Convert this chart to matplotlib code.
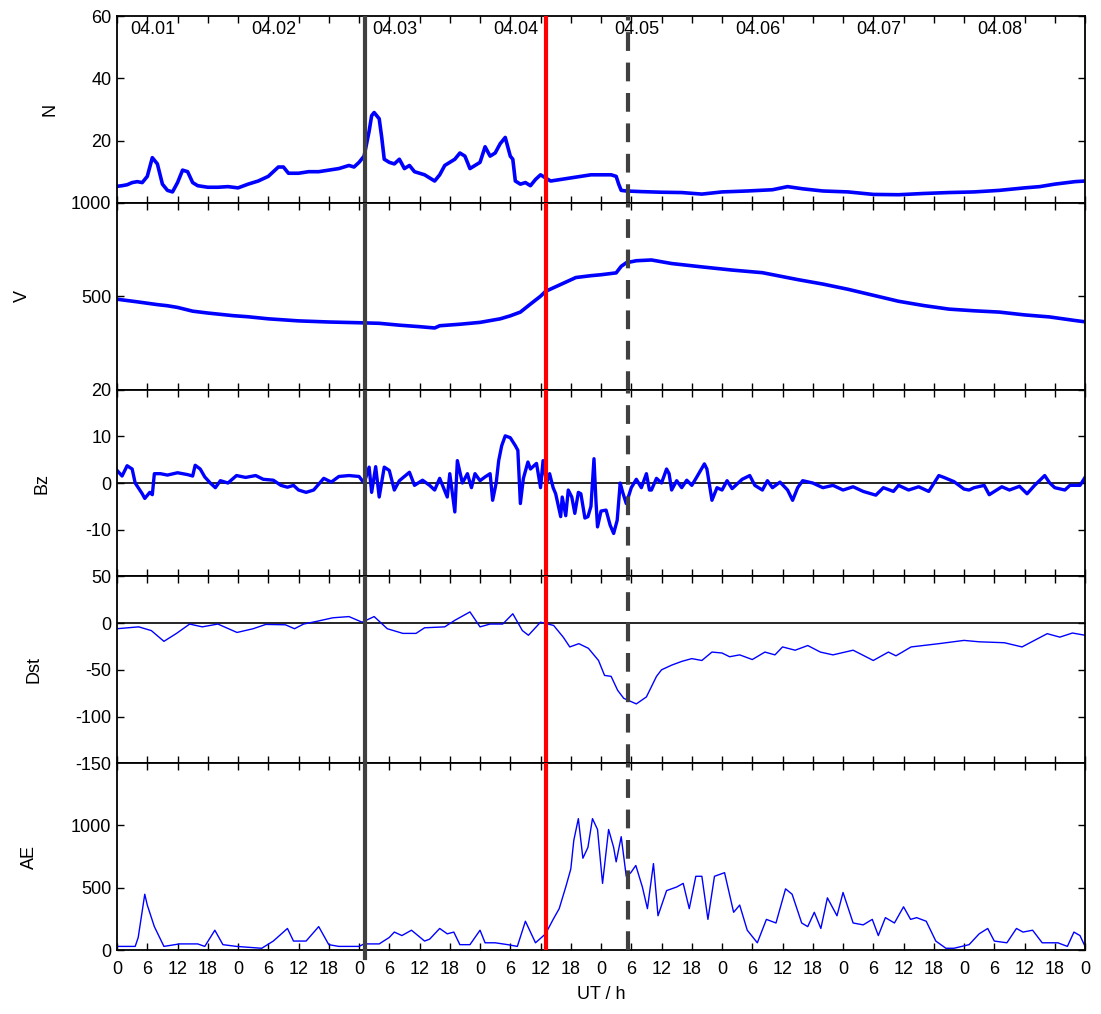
import numpy as np
import matplotlib.pyplot as plt

plt.rcParams['font.family'] = ['Liberation Sans', 'DejaVu Sans']
plt.rcParams['axes.unicode_minus'] = False

# Solar wind density N
n_h = [0, 1, 2, 3, 4, 5, 6, 7, 8, 9, 10, 11, 12, 13, 14, 15, 16, 18, 20, 22, 24, 26, 28,
       30, 31, 32, 33, 34, 36, 38, 40, 42, 44, 46, 47, 48, 49, 50, 50.5, 51, 52, 52.5, 53,
       54, 55, 56, 57, 58, 59, 60, 61, 62, 63, 64, 65, 66, 67, 68, 69, 70, 71, 72, 73, 74,
       75, 76, 77, 78, 78.5, 79, 80, 81, 82, 83, 84, 85, 86, 88, 90, 92, 94, 96, 98, 99,
       99.5, 100, 101, 104, 108, 112, 116, 120, 125, 130, 133, 136, 140, 145, 150, 155,
       160, 165, 170, 175, 180, 183, 186, 190, 192]
n_val = [5.3, 5.5, 5.8, 6.5, 6.8, 6.5, 8.5, 14.5, 12.5, 6, 4, 3.5, 6.5, 10.5, 10, 6.5,
         5.5, 5, 5, 5.2, 4.8, 6, 7, 8.5, 10, 11.5, 11.5, 9.5, 9.5, 10, 10, 10.5, 11, 12,
         11.5, 13, 15, 23, 28, 29, 27, 21, 14, 13, 12.5, 14, 11, 12, 10, 9.5, 9, 8, 7, 9,
         12, 13, 14, 16, 15, 11, 12, 13, 18, 15, 16, 19, 21, 15, 14, 7, 6, 6.5, 5.5, 7.5,
         9, 8, 7, 7.5, 8, 8.5, 9, 9, 9, 8.5, 6, 4, 3.8, 3.6, 3.4, 3.3, 2.8, 3.5, 3.8, 4.2,
         5.2, 4.5, 3.8, 3.5, 2.7, 2.6, 3, 3.3, 3.5, 4, 4.8, 5.2, 6, 6.8, 7]

# Solar wind speed V
v_h = [0, 4, 8, 10, 12, 15, 18, 23, 26, 30, 36, 42, 48, 52, 56, 60, 63, 64, 68, 72, 76,
       78, 80, 82, 84, 85, 88, 91, 94, 96, 99, 100, 101, 103, 106, 110, 116, 122, 128,
       135, 140, 145, 150, 155, 160, 165, 170, 175, 180, 185, 190, 192]
v_val = [484, 470, 455, 449, 440, 420, 410, 396, 390, 379, 368, 362, 358, 355, 345, 337,
         330, 342, 350, 360, 379, 395, 415, 458, 500, 526, 563, 600, 610, 615, 625, 660,
         679, 690, 694, 675, 657, 640, 626, 589, 565, 537, 505, 473, 450, 431, 422, 415,
         400, 389, 370, 363]

# IMF Bz
bz_h = [0, 1, 2, 3, 3.6, 5, 5.5, 6.5, 7, 7.4, 8.6, 10, 12, 14, 15, 15.5, 16.5, 17.4,
        18.5, 19.5, 20.5, 22, 23.7, 25.5, 27.5, 29, 31, 32.5, 33.8, 35, 36, 37.5, 39, 41,
        42.5, 44, 46, 48, 49, 50, 50.5, 51.3, 52, 53, 54, 55, 56, 58, 59, 60.6, 62, 63,
        64, 65.5, 66, 67, 67.5, 68.5, 69.5, 70.3, 71, 72, 73, 74, 74.5, 75.2, 75.7, 76.3,
        77, 78, 79, 79.5, 80, 80.6, 81.5, 82, 83.2, 84, 84.5, 85.2, 85.8, 86.5, 87, 88,
        88.3, 89, 89.5, 90.2, 90.8, 91.5, 92, 92.8, 93.4, 94, 94.6, 95, 95.3, 96, 97,
        97.8, 98.5, 99.2, 99.8, 100.3, 101, 102, 103, 104, 105, 105.6, 106, 107, 108, 109,
        109.5, 110, 111, 112, 113, 114, 115, 116.5, 117, 118, 119, 120, 121, 122, 124,
        125.5, 126.5, 128, 129, 130, 131.5, 133, 134, 135, 136, 138, 140, 142, 144, 146,
        148, 150.5, 152, 154, 155, 157, 159, 161, 163, 164, 166, 168, 169, 170, 172, 173,
        175.5, 177, 179, 180.5, 182, 184, 185, 186, 188, 189, 191, 192]
bz_val = [2.7, 1.5, 3.7, 3, 0, -2.3, -3.3, -2, -2.5, 2, 2, 1.7, 2.2, 1.8, 1.5, 3.8, 3,
          1.3, 0, -1, 0.5, 0, 1.6, 1.2, 1.6, 0.8, 0.6, -0.5, -0.9, -0.5, -1.5, -2, -1.5,
          1, 0.2, 1.4, 1.6, 1.4, 0, 3.4, -2, 3.5, -3, 3.4, 2.7, -1.5, 0.5, 2.3, -0.5, 0.6,
          -0.5, -1.5, 1, -3, 2, -6.2, 4.8, 0, 2, -1, 2, 0.5, 1.3, 2, -3.7, 0, 4.8, 8, 10.1,
          9.7, 8, 7, -4.4, 1, 4.5, 3, 4.2, -1, 4.8, 0, 2, -1, -2.3, -7.2, -3, -7, -1.5, -3,
          -6.5, -2, -2.3, -7.5, -7.2, -5, 5.2, -4, -9.4, -6, -5.8, -9, -10.8, -8, 0, -2,
          -4.4, -1, 0.8, -1, 2, -1.5, -1.5, 1, 0, 3, 2, -1.5, 0.5, -1, 0.6, -0.5, 1.3, 4.1,
          3, -3.7, -1, -1.5, 0.5, -1.2, 0.8, 1.6, -0.5, -1.5, 0.5, -1, 0.2, -1.5, -3.7, -1,
          0.5, 0, -1, -0.5, -1.5, -0.8, -1.8, -2.6, -1, -1.8, -0.5, -1.5, -0.8, -1.8, 1.6,
          1.2, 0.3, -1.3, -1.5, -1, -0.5, -2.5, -0.8, -1.5, -0.7, -2.3, -0.5, 1.6, 0, -1,
          -1.5, -0.5, -0.5, 1.2]

# Dst index
dst_h = [0, 4.3, 6.8, 9.3, 11.8, 14.4, 16.9, 20, 23.8, 27, 29.5, 33.4, 35.2, 37, 39.7,
         42.8, 46, 48.6, 51, 53.6, 56.7, 59.3, 61, 65, 67, 70, 72, 74, 76.5, 78.5, 80.4,
         81.6, 84, 86.6, 88.5, 89.8, 91.6, 93.5, 95.5, 96.7, 98, 99.3, 100.5, 103, 105, 107,
         108, 110, 112, 114, 116, 118, 120, 121.5, 123.5, 126, 128.5, 130.5, 132, 134.5,
         137, 139.5, 142, 146, 150, 153, 154.5, 157.5, 163, 168, 171, 176, 179.5, 184.5,
         187, 189.5, 192]
dst_val = [-6, -4, -8, -19.5, -11, -1, -4, -1, -10, -6, -1.4, -1.8, -6, -1, 2, 5.7, 7, 1,
           7, -6, -11, -11, -5, -4, 3, 12, -4, -1, -1, 10, -8, -13, 1, -2.5, -15, -25.5, -22,
           -27, -40, -56, -57, -72, -80.5, -86.5, -79, -57, -50, -45, -41, -38, -40, -31, -32,
           -36, -34, -39, -31, -34, -25.5, -29, -24, -31, -34, -29, -40, -31, -35, -25.5, -22,
           -18.5, -20, -21, -25.5, -11.3, -15, -10.6, -13]

# AE index
ae_h = [0, 3.6, 4.2, 5.5, 6, 7.4, 9.3, 12.4, 16, 17.4, 19.4, 21, 23.7, 28.7, 31, 33.8, 35,
        37.5, 40, 42, 44, 48, 49, 52, 54, 55, 56.5, 58.4, 61, 62, 64, 65.5, 66.8, 68, 70,
        72, 73, 75, 77.5, 79.4, 81, 83, 85, 86.5, 87.7, 89, 90, 90.6, 91.5, 92.4, 93.4,
        94.3, 95.3, 96.3, 97.5, 98.5, 99, 100, 101, 101.9, 102.9, 104.2, 105.2, 106.4,
        107.3, 109, 111, 112.3, 113.5, 114.8, 116, 117.2, 118.5, 120.5, 122.3, 123.5, 125,
        127, 128.8, 130.7, 132.6, 133.9, 135.8, 137, 138.3, 139.6, 140.9, 142.8, 144, 146,
        148, 149.8, 151, 152.4, 154.2, 156, 157.4, 158.6, 160.5, 162.4, 164.4, 166, 169,
        171, 172.7, 174, 176.5, 178.4, 179.7, 181.6, 183.5, 186.6, 188.5, 189.8, 191, 192]
ae_val = [29, 29, 101, 448, 361, 188, 29, 49, 49, 29, 159, 43, 29, 14, 72, 173, 72, 72,
          188, 43, 29, 29, 49, 49, 101, 144, 116, 159, 72, 87, 173, 130, 144, 43, 43, 159,
          58, 58, 43, 29, 231, 58, 130, 246, 332, 506, 650, 881, 1055, 737, 824, 1055, 968,
          535, 968, 824, 708, 910, 592, 621, 679, 506, 332, 694, 275, 477, 506, 535, 332,
          592, 592, 246, 592, 621, 303, 361, 159, 58, 246, 217, 491, 448, 217, 188, 303, 173,
          419, 275, 462, 217, 202, 246, 116, 260, 217, 347, 246, 260, 231, 72, 14, 14, 43,
          130, 173, 72, 58, 173, 144, 159, 58, 58, 29, 144, 116, 29]

dates = ['04.01', '04.02', '04.03', '04.04', '04.05', '04.06', '04.07', '04.08']
hour_labels = ['0', '6', '12', '18'] * 8 + ['0']

# event times (hours from 04.01 00 UT)
t_shock = 49.2
t_red = 85.0
t_dst_min = 101.3

blue = '#0000ff'
fig = plt.figure(figsize=(11.01, 10.14), dpi=100)
axes = fig.subplots(5, 1, sharex=True)
fig.subplots_adjust(left=0.1063, right=0.9855, top=0.9842, bottom=0.0631, hspace=0)

ax_n, ax_v, ax_bz, ax_dst, ax_ae = axes
ax_n.plot(n_h, n_val, color=blue, lw=2.6)
ax_v.plot(v_h, v_val, color=blue, lw=2.6)
ax_bz.plot(bz_h, bz_val, color=blue, lw=2.4)
ax_dst.plot(dst_h, dst_val, color=blue, lw=1.0)
ax_ae.plot(ae_h, ae_val, color=blue, lw=1.0)

ax_bz.axhline(0, color='black', lw=1.2, zorder=1)
ax_dst.axhline(0, color='black', lw=1.2, zorder=1)

limits = [(0, 60), (0, 1000), (-20, 20), (-150, 50), (0, 1500)]
yticks = [[20, 40, 60], [500, 1000], [-10, 0, 10, 20], [-150, -100, -50, 0, 50], [0, 500, 1000]]
names = ['N', 'V', 'Bz', 'Dst', 'AE']
label_x = [-0.060, -0.089, -0.069, -0.077, -0.082]

for i, ax in enumerate(axes):
    ax.set_ylim(*limits[i])
    ax.set_yticks(yticks[i])
    ax.set_xlim(0, 192)
    ax.set_ylabel(names[i], fontsize=13)
    ax.yaxis.set_label_coords(label_x[i], 0.5)
    ax.tick_params(direction='in', length=5, width=1, labelsize=13,
                   top=True, right=True, pad=4)
    for s in ax.spines.values():
        s.set_linewidth(1.3)
    ax.axvline(t_red, color='#ff0000', lw=3.0, zorder=5)
    ax.axvline(t_dst_min, color='#404040', lw=3.0, ls=(0, (4.5, 2.8)), zorder=5)
    if ax is ax_ae:
        # the first line runs a little below the last panel
        ax.axvline(t_shock, ymin=-0.045, color='#404040', lw=3.0, zorder=5, clip_on=False)
    else:
        ax.axvline(t_shock, color='#404040', lw=3.0, zorder=5)

for ax in axes[:-1]:
    ax.set_xticks(np.arange(0, 193, 24))
    ax.tick_params(labelbottom=False)

ax_ae.set_xticks(np.arange(0, 193, 6))
ax_ae.set_xticklabels(hour_labels)
ax_ae.tick_params(axis='x', pad=8)
ax_ae.set_xlabel('UT / h', fontsize=13, labelpad=6)

for d, txt in enumerate(dates):
    ax_n.text(d * 24 + 2.6, 55.7, txt, fontsize=13, va='center', ha='left')

fig.savefig('out.png', dpi=100)
